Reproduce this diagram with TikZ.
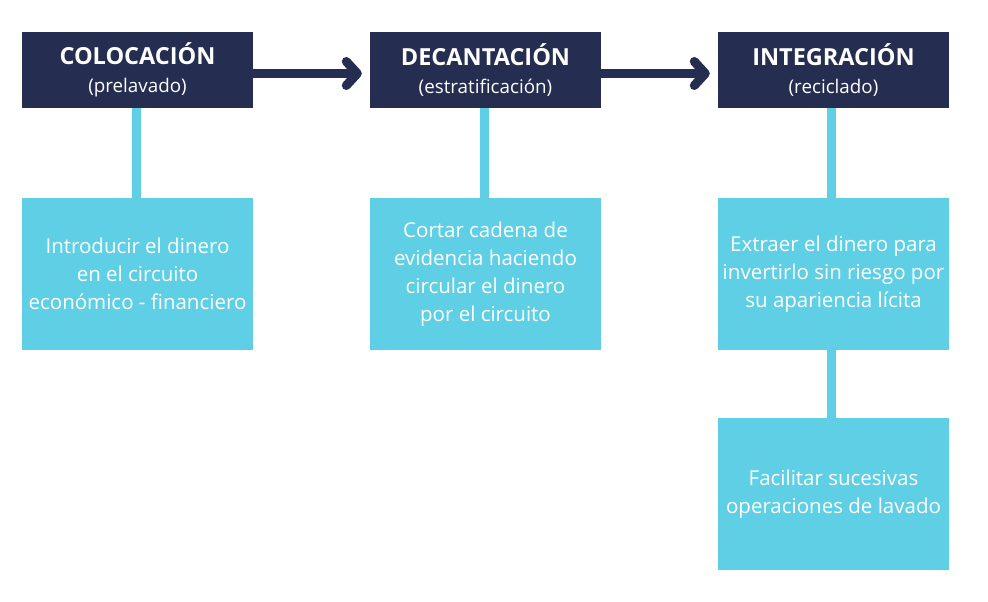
\documentclass[tikz,border=0pt]{standalone}
\usepackage{fontspec}
\setmainfont{Open Sans}
\usepackage{tikz}
\usetikzlibrary{arrows.meta,positioning}
\definecolor{navy}{HTML}{252D50}
\definecolor{sky}{HTML}{5ECFE5}

\begin{document}
\begin{tikzpicture}[x=1pt,y=-1pt,>=Stealth,
  stage/.style={fill=navy,text=white,minimum width=231pt,minimum height=76pt,inner sep=0pt,align=center,
    font=\fontsize{18.8}{28}\selectfont},
  aim/.style={fill=sky,text=white,minimum width=231pt,minimum height=152pt,inner sep=0pt,align=center,
    font=\fontsize{20.5}{28}\selectfont},
  link/.style={sky,line width=9pt},
  flow/.style={navy,line width=9pt,-{Straight Barb[length=11pt,width=24pt,round]},shorten >=8pt}]
\useasboundingbox (0,0) rectangle (988,602);
% stages
\node[stage] (colo) at (137.5,70) {{\fontsize{23.5}{28}\selectfont\bfseries COLOCACIÓN}\\(prelavado)};
\node[stage] (deca) at (485.5,70) {{\fontsize{23.5}{28}\selectfont\bfseries DECANTACIÓN}\\(estratificación)};
\node[stage] (integ) at (833.5,70) {{\fontsize{23.5}{28}\selectfont\bfseries INTEGRACIÓN}\\(reciclado)};
% aims
\node[aim] (colotxt) at (137.5,274) {Introducir el dinero\\en el circuito\\económico - financiero};
\node[aim] (decatxt) at (485.5,274) {Cortar cadena de\\evidencia haciendo\\circular el dinero\\por el circuito};
\node[aim] (integtxt) at (833.5,274) {Extraer el dinero para\\invertirlo sin riesgo por\\su apariencia lícita};
\node[aim] (lavado) at (833.5,494) {Facilitar sucesivas\\operaciones de lavado};
% links
\draw[link] ([xshift=-1.5pt]colo.south) -- ([xshift=-1.5pt]colotxt.north);
\draw[link] ([xshift=-1.5pt]deca.south) -- ([xshift=-1.5pt]decatxt.north);
\draw[link] ([xshift=-2.5pt]integ.south) -- ([xshift=-2.5pt]integtxt.north);
\draw[link] ([xshift=-2.5pt]integtxt.south) -- ([xshift=-2.5pt]lavado.north);
% flow
\draw[flow] ([yshift=-3.5pt]colo.east) -- ([yshift=-3.5pt]deca.west);
\draw[flow] ([yshift=-3.5pt]deca.east) -- ([yshift=-3.5pt]integ.west);
\end{tikzpicture}
\end{document}
